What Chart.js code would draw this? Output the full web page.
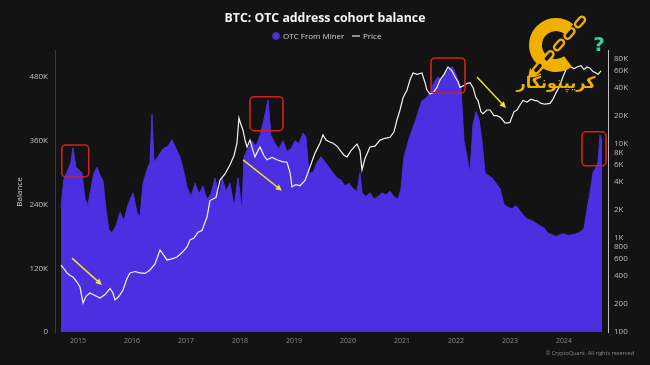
<!DOCTYPE html>
<html>
<head>
<meta charset="utf-8">
<script src="https://cdn.jsdelivr.net/npm/chart.js@4.4.0/dist/chart.umd.min.js"></script>
<style>
  html, body { margin: 0; padding: 0; background: #131313; }
  #wrap { width: 650px; height: 365px; position: relative; }
</style>
</head>
<body>
<div id="wrap"><canvas id="chart" width="650" height="365"></canvas></div>
<script>
// OTC From Miner balance (BTC)
const balanceYears = [
  2014.685, 2014.741, 2014.815, 2014.870, 2014.907, 2014.963, 2015.019, 2015.074, 2015.130, 2015.185,
  2015.241, 2015.296, 2015.352, 2015.407, 2015.463, 2015.519, 2015.574, 2015.630, 2015.704, 2015.778,
  2015.852, 2015.926, 2016.019, 2016.093, 2016.148, 2016.204, 2016.278, 2016.333, 2016.370, 2016.407,
  2016.481, 2016.574, 2016.667, 2016.741, 2016.815, 2016.889, 2016.963, 2017.019, 2017.093, 2017.167,
  2017.241, 2017.315, 2017.389, 2017.463, 2017.537, 2017.611, 2017.667, 2017.741, 2017.815, 2017.889,
  2017.963, 2018.037, 2018.074, 2018.148, 2018.222, 2018.296, 2018.370, 2018.444, 2018.519, 2018.574,
  2018.648, 2018.722, 2018.796, 2018.870, 2018.944, 2019.019, 2019.093, 2019.167, 2019.222, 2019.278,
  2019.352, 2019.426, 2019.500, 2019.574, 2019.648, 2019.722, 2019.796, 2019.870, 2019.944, 2020.019,
  2020.093, 2020.167, 2020.222, 2020.259, 2020.333, 2020.407, 2020.481, 2020.556, 2020.630, 2020.704,
  2020.778, 2020.852, 2020.926, 2020.981, 2021.037, 2021.093, 2021.148, 2021.204, 2021.259, 2021.315,
  2021.370, 2021.444, 2021.519, 2021.593, 2021.667, 2021.741, 2021.815, 2021.889, 2021.926, 2021.981,
  2022.037, 2022.093, 2022.148, 2022.204, 2022.259, 2022.315, 2022.370, 2022.426, 2022.481, 2022.537,
  2022.593, 2022.667, 2022.741, 2022.815, 2022.889, 2022.963, 2023.037, 2023.111, 2023.185, 2023.259,
  2023.333, 2023.407, 2023.481, 2023.556, 2023.630, 2023.704, 2023.778, 2023.852, 2023.926, 2024.000,
  2024.074, 2024.148, 2024.222, 2024.296, 2024.370, 2024.426, 2024.481, 2024.537, 2024.593, 2024.630,
  2024.667, 2024.704
];
const balanceValues = [
  235000, 290000, 305000, 320000, 347000, 310000, 305000, 300000, 250000, 240000,
  270000, 300000, 310000, 295000, 285000, 230000, 192000, 187000, 200000, 225000,
  210000, 240000, 262000, 225000, 217000, 280000, 305000, 320000, 409000, 320000,
  330000, 345000, 350000, 362000, 345000, 330000, 300000, 273000, 255000, 280000,
  260000, 275000, 250000, 260000, 290000, 255000, 290000, 265000, 280000, 235000,
  290000, 230000, 330000, 345000, 360000, 350000, 370000, 400000, 437000, 370000,
  355000, 345000, 360000, 340000, 345000, 360000, 355000, 375000, 367000, 300000,
  300000, 320000, 330000, 320000, 310000, 300000, 290000, 286000, 275000, 280000,
  270000, 265000, 300000, 262000, 255000, 262000, 250000, 255000, 262000, 258000,
  265000, 255000, 250000, 270000, 330000, 350000, 370000, 385000, 400000, 420000,
  435000, 440000, 450000, 470000, 480000, 475000, 490000, 495000, 500000, 490000,
  475000, 460000, 360000, 330000, 300000, 390000, 415000, 400000, 360000, 300000,
  295000, 290000, 280000, 270000, 240000, 235000, 232000, 238000, 228000, 218000,
  212000, 210000, 205000, 200000, 196000, 186000, 183000, 180000, 183000, 185000,
  182000, 183000, 185000, 188000, 195000, 230000, 262000, 300000, 310000, 320000,
  371000, 360000
];

// BTC price (USD), right log axis
const priceYears = [
  2014.685, 2014.741, 2014.796, 2014.852, 2014.907, 2014.981, 2015.037, 2015.093, 2015.148, 2015.222,
  2015.315, 2015.407, 2015.500, 2015.593, 2015.648, 2015.685, 2015.759, 2015.833, 2015.907, 2015.963,
  2016.056, 2016.148, 2016.241, 2016.333, 2016.426, 2016.519, 2016.593, 2016.648, 2016.741, 2016.833,
  2016.926, 2017.019, 2017.074, 2017.148, 2017.222, 2017.296, 2017.389, 2017.444, 2017.500, 2017.556,
  2017.630, 2017.722, 2017.815, 2017.889, 2017.944, 2017.981, 2018.019, 2018.056, 2018.093, 2018.130,
  2018.185, 2018.241, 2018.278, 2018.333, 2018.370, 2018.444, 2018.500, 2018.593, 2018.685, 2018.778,
  2018.870, 2018.926, 2018.963, 2019.037, 2019.111, 2019.204, 2019.296, 2019.389, 2019.481, 2019.537,
  2019.593, 2019.667, 2019.722, 2019.796, 2019.852, 2019.926, 2019.981, 2020.056, 2020.130, 2020.167,
  2020.222, 2020.259, 2020.315, 2020.407, 2020.500, 2020.593, 2020.685, 2020.778, 2020.852, 2020.907,
  2020.963, 2021.019, 2021.093, 2021.148, 2021.204, 2021.278, 2021.370, 2021.426, 2021.463, 2021.519,
  2021.574, 2021.648, 2021.704, 2021.778, 2021.852, 2021.926, 2021.981, 2022.037, 2022.074, 2022.148,
  2022.204, 2022.259, 2022.315, 2022.370, 2022.407, 2022.463, 2022.500, 2022.574, 2022.630, 2022.704,
  2022.759, 2022.833, 2022.907, 2022.944, 2023.000, 2023.074, 2023.130, 2023.185, 2023.241, 2023.315,
  2023.389, 2023.463, 2023.500, 2023.574, 2023.648, 2023.741, 2023.796, 2023.852, 2023.926, 2023.981,
  2024.037, 2024.111, 2024.185, 2024.241, 2024.315, 2024.370, 2024.426, 2024.481, 2024.537, 2024.593,
  2024.630, 2024.685
];
const priceValues = [
  515, 470, 425, 400, 385, 340, 301, 204, 240, 260,
  245, 230, 250, 290, 260, 219, 240, 280, 370, 425,
  440, 425, 420, 457, 530, 745, 650, 584, 600, 628,
  700, 802, 953, 1000, 1150, 1200, 1670, 2500, 2600, 2700,
  4140, 4800, 6000, 7500, 10200, 18900, 16000, 14000, 11000, 9300,
  11000, 8500, 7300, 8500, 9300, 7500, 6800, 7200, 6800, 6500,
  6400, 5000, 3500, 3700, 3600, 4100, 5700, 8000, 10200, 12500,
  11000, 10500, 10200, 9500, 8600, 7600, 7300, 8500, 9500, 10000,
  8500, 5300, 7000, 9300, 9500, 11000, 11500, 11800, 13500, 18000,
  23000, 31000, 37500, 48000, 57000, 55000, 57000, 45000, 37500, 34000,
  35000, 40000, 48000, 55000, 66000, 60000, 52000, 46000, 40000, 42000,
  44000, 45000, 40000, 31000, 29000, 22000, 21000, 23000, 23000, 20000,
  20000, 19000, 16800, 16700, 17000, 22000, 23000, 26000, 29000, 28000,
  30000, 29000, 29000, 27000, 26500, 27000, 30000, 35000, 42000, 52000,
  62000, 67000, 63000, 66000, 68000, 62000, 66000, 64000, 59000, 57000,
  55000, 60000
];

const yearTicks = [2015, 2016, 2017, 2018, 2019, 2020, 2021, 2022, 2023, 2024];
const balanceTicks = [0, 120000, 240000, 360000, 480000];
const priceTicks = [100, 200, 400, 600, 800, 1000, 2000, 4000, 6000, 8000, 10000, 20000, 40000, 60000, 80000];

// red highlight boxes [x0, x1, balanceTop, balanceBottom]
const highlightBoxes = [
  [2014.70, 2015.20, 352000, 292000],
  [2018.185, 2018.796, 443000, 379000],
  [2021.537, 2022.167, 516000, 450000],
  [2024.333, 2024.778, 377000, 313000]
];
// yellow arrows [x0, y0, x1, y1] on balance axis
const arrows = [
  [2014.889, 139000, 2015.444, 88500],
  [2018.056, 324000, 2018.778, 266000],
  [2022.389, 480000, 2022.926, 422000]
];

const PURPLE = '#4b2fe0';
const GOLD = '#f0b000';

function fmtK(v) {
  if (v === 0) return '0';
  if (v >= 1000) return (v / 1000) + 'K';
  return String(v);
}

function drawLogo(ctx) {
  // big gold C with a chain through it
  ctx.save();
  ctx.strokeStyle = GOLD;
  ctx.lineCap = 'butt';
  ctx.lineWidth = 13;
  ctx.beginPath();
  ctx.arc(556, 45, 20.5, 0.3 * Math.PI, 1.72 * Math.PI);
  ctx.stroke();
  ctx.lineWidth = 2.4;
  ctx.fillStyle = '#131313';
  for (let i = 0; i < 5; i++) {
    const cx = 580 - i * 10.5, cy = 22 + i * 11.5;
    ctx.save();
    ctx.translate(cx, cy);
    ctx.rotate(-0.85);
    ctx.beginPath();
    ctx.roundRect(-6, -3, 12, 6, 3);
    ctx.fill();
    ctx.stroke();
    ctx.restore();
  }
  ctx.fillStyle = GOLD;
  ctx.beginPath();
  ctx.moveTo(528, 78);
  ctx.lineTo(530, 68);
  ctx.lineTo(538, 76);
  ctx.closePath();
  ctx.fill();
  ctx.restore();
}

const decorPlugin = {
  id: 'decor',
  afterDatasetsDraw(chart) {
    const ctx = chart.ctx;
    const x = chart.scales.x, y = chart.scales.y;
    ctx.save();
    // red boxes
    ctx.strokeStyle = '#d3201f';
    ctx.lineWidth = 1.6;
    highlightBoxes.forEach(b => {
      const x0 = x.getPixelForValue(b[0]), x1 = x.getPixelForValue(b[1]);
      const y0 = y.getPixelForValue(b[2]), y1 = y.getPixelForValue(b[3]);
      ctx.beginPath();
      ctx.roundRect(x0, y0, x1 - x0, y1 - y0, 4);
      ctx.stroke();
    });
    // yellow arrows
    ctx.strokeStyle = '#e8e630';
    ctx.fillStyle = '#e8e630';
    ctx.lineWidth = 1.5;
    arrows.forEach(a => {
      const x0 = x.getPixelForValue(a[0]), y0 = y.getPixelForValue(a[1]);
      const x1 = x.getPixelForValue(a[2]), y1 = y.getPixelForValue(a[3]);
      const ang = Math.atan2(y1 - y0, x1 - x0);
      ctx.beginPath();
      ctx.moveTo(x0, y0);
      ctx.lineTo(x1 - 4 * Math.cos(ang), y1 - 4 * Math.sin(ang));
      ctx.stroke();
      ctx.beginPath();
      ctx.moveTo(x1, y1);
      ctx.lineTo(x1 - 7 * Math.cos(ang - 0.45), y1 - 7 * Math.sin(ang - 0.45));
      ctx.lineTo(x1 - 7 * Math.cos(ang + 0.45), y1 - 7 * Math.sin(ang + 0.45));
      ctx.closePath();
      ctx.fill();
    });
    ctx.restore();
  },
  afterDraw(chart) {
    const ctx = chart.ctx;
    ctx.save();
    // title
    ctx.fillStyle = '#f2f2f2';
    ctx.font = 'bold 12.3px "Open Sans", sans-serif';
    ctx.textAlign = 'center';
    ctx.textBaseline = 'middle';
    ctx.fillText('BTC: OTC address cohort balance', 325, 18);
    // legend
    ctx.font = '8px "Open Sans", sans-serif';
    ctx.textAlign = 'left';
    ctx.fillStyle = PURPLE;
    ctx.beginPath();
    ctx.arc(276, 36, 3.8, 0, Math.PI * 2);
    ctx.fill();
    ctx.fillStyle = '#d0d0d0';
    ctx.fillText('OTC From Miner', 283, 36.5);
    ctx.strokeStyle = '#e0e0e0';
    ctx.lineWidth = 1.2;
    ctx.beginPath();
    ctx.moveTo(352, 36);
    ctx.lineTo(360, 36);
    ctx.stroke();
    ctx.fillText('Price', 363, 36.5);
    // left axis title
    ctx.save();
    ctx.translate(20, 192);
    ctx.rotate(-Math.PI / 2);
    ctx.textAlign = 'center';
    ctx.font = '8px "Open Sans", sans-serif';
    ctx.fillStyle = '#d0d0d0';
    ctx.fillText('Balance', 0, 0);
    ctx.restore();
    // copyright
    ctx.font = '5.5px "Open Sans", sans-serif';
    ctx.fillStyle = '#8a8a8a';
    ctx.textAlign = 'right';
    ctx.fillText('\u00a9 CryptoQuant. All rights reserved', 634, 353);
    // watermark
    drawLogo(ctx);
    ctx.fillStyle = GOLD;
    ctx.textAlign = 'center';
    ctx.font = 'bold 16px "DejaVu Sans", sans-serif';
    ctx.fillText('\u06a9\u0631\u06cc\u067e\u062a\u0648\u0646\u06af\u0627\u0631', 556, 84);
    ctx.fillStyle = '#2fd39b';
    ctx.font = 'bold 20px "DejaVu Sans", sans-serif';
    ctx.fillText('?', 599, 46);
    ctx.restore();
  }
};

new Chart(document.getElementById('chart').getContext('2d'), {
  type: 'line',
  data: {
    datasets: [
      {
        label: 'Price',
        data: priceYears.map((v, i) => ({ x: v, y: priceValues[i] })),
        yAxisID: 'y1',
        borderColor: '#f4f4f4',
        borderWidth: 1.2,
        pointRadius: 0,
        fill: false,
        order: 0
      },
      {
        label: 'OTC From Miner',
        data: balanceYears.map((v, i) => ({ x: v, y: balanceValues[i] })),
        yAxisID: 'y',
        borderColor: PURPLE,
        backgroundColor: PURPLE,
        borderWidth: 1,
        pointRadius: 0,
        fill: 'origin',
        order: 1
      }
    ]
  },
  options: {
    responsive: false,
    animation: false,
    layout: { padding: { top: 50, left: 0, right: 0, bottom: 0 } },
    plugins: {
      legend: { display: false },
      title: { display: false },
      tooltip: { enabled: false }
    },
    scales: {
      x: {
        type: 'linear',
        min: 2014.574,
        max: 2024.815,
        grid: { display: false, drawTicks: false },
        border: { display: false },
        afterBuildTicks: s => { s.ticks = yearTicks.map(v => ({ value: v })); },
        afterFit: s => { s.height = 33; },
        ticks: {
          color: '#8c8c8c',
          font: { size: 7, family: '"Open Sans", sans-serif' },
          padding: 5,
          maxRotation: 0,
          callback: v => String(v)
        }
      },
      y: {
        position: 'left',
        min: 0,
        max: 531000,
        grid: { display: false, drawTicks: false },
        border: { display: true, color: '#3b2c9c', width: 1 },
        afterBuildTicks: s => { s.ticks = balanceTicks.map(v => ({ value: v })); },
        afterFit: s => { s.width = 55; },
        ticks: {
          color: '#bdbdbd',
          font: { size: 8, family: '"Open Sans", sans-serif' },
          padding: 7,
          callback: v => fmtK(v)
        }
      },
      y1: {
        type: 'logarithmic',
        position: 'right',
        min: 100,
        max: 100000,
        grid: { display: false, drawTicks: false },
        border: { display: true, color: '#bdbdbd', width: 1 },
        afterBuildTicks: s => { s.ticks = priceTicks.map(v => ({ value: v })); },
        afterFit: s => { s.width = 42; },
        ticks: {
          color: '#bdbdbd',
          font: { size: 8, family: '"Open Sans", sans-serif' },
          padding: 6,
          autoSkip: false,
          callback: v => fmtK(v)
        }
      }
    }
  },
  plugins: [decorPlugin]
});
</script>
</body>
</html>
